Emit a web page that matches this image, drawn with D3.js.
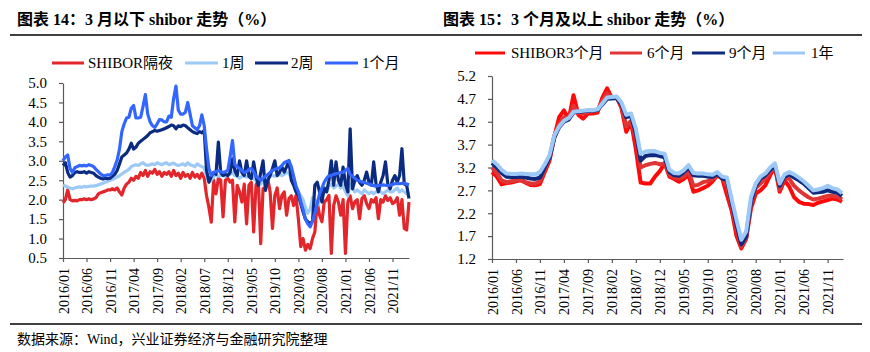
<!DOCTYPE html>
<html>
<head>
<meta charset="utf-8">
<script src="https://cdn.jsdelivr.net/npm/d3@7"></script>
<style>
  body { margin: 0; background: #fff; }
  svg text { font-family: "Liberation Serif", "Noto Sans CJK SC", serif; fill: #000; }
</style>
</head>
<body>
<svg id="chart" width="870" height="352"></svg>
<script>
// x tick labels, one every 5 months from 2016/01
var xTickLabels = ["2016/01","2016/06","2016/11","2017/04","2017/09","2018/02","2018/07",
  "2018/12","2019/05","2019/10","2020/03","2020/08","2021/01","2021/06","2021/11"];

// ---- chart 14: half-monthly readings, 2016/01 .. 2022/02 ----
var leftNames = ["SHIBOR隔夜", "1周", "2周", "1个月"];
var leftTicks = [0.5, 1.0, 1.5, 2.0, 2.5, 3.0, 3.5, 4.0, 4.5, 5.0];

var shiborON = [
  1.92, 2.0, 2.25, 2.0, 1.97, 1.98, 1.97, 2.0, 2.0, 2.02,
  2.0, 2.02, 2.0, 2.02, 2.05, 2.15, 2.18, 2.2, 2.22, 2.25,
  2.25, 2.28, 2.25, 2.3, 2.2, 2.12, 2.3, 2.4, 2.45, 2.55,
  2.5, 2.6, 2.55, 2.7, 2.62, 2.75, 2.6, 2.72, 2.68, 2.78,
  2.65, 2.72, 2.6, 2.7, 2.65, 2.72, 2.6, 2.75, 2.62, 2.68,
  2.55, 2.7, 2.6, 2.65, 2.55, 2.7, 2.58, 2.65, 2.55, 2.68,
  2.55, 2.1, 1.8, 1.42, 2.5, 2.15, 2.55, 2.5, 1.56, 2.5,
  2.55, 2.45, 2.5, 1.43, 2.37, 2.2, 1.94, 2.4, 1.38, 2.37,
  2.45, 1.17, 2.37, 2.5, 0.87, 2.28, 2.3, 2.54, 2.2, 1.26,
  2.11, 2.3, 1.77, 2.11, 2.2, 1.6, 2.03, 2.1, 1.85, 2.11,
  1.5, 0.79, 1.0, 0.7, 0.85, 0.74, 1.0, 1.17, 1.94, 1.6,
  1.43, 1.94, 2.0, 2.11, 0.62, 1.85, 2.1, 1.94, 1.6, 2.0,
  0.62, 1.94, 2.1, 1.77, 1.94, 2.0, 1.51, 2.03, 2.1, 1.9,
  1.77, 2.0, 1.94, 2.05, 1.51, 2.0, 1.94, 2.1, 1.98, 2.05,
  1.9, 1.94, 2.05, 1.6, 2.0, 1.26, 1.22, 1.94
];
var shibor1W = [
  2.38, 2.35, 2.32, 2.3, 2.28, 2.3, 2.32, 2.33, 2.32, 2.34,
  2.33, 2.34, 2.35, 2.35, 2.36, 2.38, 2.4, 2.42, 2.45, 2.47,
  2.5, 2.52, 2.55, 2.58, 2.62, 2.66, 2.7, 2.74, 2.78, 2.85,
  2.88, 2.9, 2.88, 2.92, 2.95, 2.9, 2.88, 2.9, 2.92, 2.9,
  2.95, 2.92, 2.9, 2.93, 2.95, 2.9, 2.92, 2.94, 2.9, 2.88,
  2.9, 2.92, 2.88, 2.95, 2.9, 2.88, 2.85, 2.92, 2.88, 2.85,
  2.82, 2.6, 2.45, 2.5, 2.6, 2.62, 2.6, 2.62, 2.65, 2.6,
  2.62, 2.65, 2.7, 2.62, 2.6, 2.55, 2.6, 2.62, 2.58, 2.6,
  2.62, 2.55, 2.5, 2.45, 2.4, 2.5, 2.55, 2.58, 2.6, 2.62,
  2.6, 2.62, 2.65, 2.62, 2.65, 2.7, 2.68, 2.55, 2.4, 2.3,
  2.2, 2.1, 2.0, 1.8, 1.65, 1.75, 2.05, 2.0, 1.85, 2.0,
  2.2, 2.3, 2.2, 2.35, 2.4, 2.3, 2.35, 2.4, 2.3, 2.35,
  2.2, 2.1, 2.4, 2.3, 2.2, 2.25, 2.2, 2.15, 2.25, 2.2,
  2.15, 2.2, 2.15, 2.2, 2.25, 2.2, 2.15, 2.2, 2.25, 2.2,
  2.2, 2.25, 2.3, 2.2, 2.25, 2.2, 2.15, 2.2
];
var shibor2W = [
  2.88, 2.95, 2.7, 2.58, 2.62, 2.7, 2.72, 2.7, 2.7, 2.72,
  2.68, 2.72, 2.7, 2.68, 2.62, 2.58, 2.55, 2.53, 2.55, 2.54,
  2.55, 2.6, 2.65, 2.75, 2.92, 3.1, 3.15, 3.2, 3.3, 3.45,
  3.3, 3.35, 3.45, 3.5, 3.55, 3.6, 3.65, 3.72, 3.75, 3.78,
  3.76, 3.78, 3.8, 3.82, 3.85, 3.88, 3.92, 3.9, 3.82, 3.9,
  3.88, 3.92, 3.9, 3.85, 3.8, 3.75, 3.72, 3.7, 3.75, 3.72,
  3.78, 2.75, 2.45, 2.6, 2.7, 2.65, 3.48, 2.7, 2.62, 2.65,
  2.62, 2.7, 3.05, 2.75, 2.62, 3.0, 2.7, 2.62, 3.0, 2.6,
  2.54, 2.97, 2.6, 2.37, 2.7, 3.0, 2.24, 2.5, 2.62, 2.8,
  3.0, 2.62, 2.7, 2.84, 2.71, 2.85, 3.0, 2.5, 2.37, 2.2,
  2.11, 1.9, 1.68, 1.5, 1.43, 1.38, 1.45, 2.37, 2.45, 2.2,
  1.94, 2.3, 2.2, 2.5, 3.0, 2.37, 2.97, 2.5, 2.37, 2.84,
  2.4, 2.2, 3.82, 2.28, 2.5, 2.62, 2.45, 2.37, 2.5, 2.71,
  2.45, 2.37, 2.97, 2.4, 2.2, 2.45, 2.62, 2.97, 2.4, 2.28,
  2.5, 2.62, 2.45, 2.62, 3.31, 2.4, 2.37, 2.03
];
var shibor1M = [
  3.0, 3.1, 3.15, 2.8, 2.7, 2.82, 2.85, 2.88, 2.87, 2.88,
  2.87, 2.9, 2.88, 2.85, 2.78, 2.72, 2.66, 2.62, 2.62, 2.64,
  2.63, 2.7, 2.85, 3.02, 3.3, 3.75, 3.95, 4.1, 4.12, 4.35,
  4.42, 4.1, 4.1, 4.12, 4.4, 4.7, 4.2, 4.0, 3.9, 3.86,
  3.95, 4.06, 4.05, 4.0, 4.0, 4.15, 4.12, 4.6, 4.92, 4.3,
  4.2, 4.2, 4.25, 4.5, 4.2, 3.9, 3.85, 3.8, 3.9, 4.18,
  3.9, 3.3, 2.8, 2.62, 2.7, 2.72, 2.75, 2.72, 2.7, 2.72,
  2.75, 3.1, 3.52, 2.9, 2.85, 2.8, 2.75, 2.7, 2.72, 2.78,
  2.8, 2.72, 2.6, 2.55, 2.5, 2.55, 2.6, 2.65, 2.7, 2.75,
  2.78, 2.8, 2.82, 2.88, 2.95, 2.98, 3.0, 2.85, 2.6, 2.35,
  2.2, 1.95, 1.75, 1.5, 1.38, 1.3, 1.45, 1.65, 1.9, 2.15,
  2.3, 2.45, 2.55, 2.62, 2.62, 2.65, 2.67, 2.68, 2.7, 2.7,
  2.75, 2.8, 2.65, 2.6, 2.55, 2.5, 2.48, 2.45, 2.45, 2.42,
  2.4, 2.38, 2.36, 2.35, 2.36, 2.37, 2.38, 2.37, 2.36, 2.37,
  2.39, 2.41, 2.42, 2.41, 2.42, 2.42, 2.4, 2.38
];

// ---- chart 15: monthly readings, 2016/01 .. 2022/02 ----
var rightNames = ["SHIBOR3个月", "6个月", "9个月", "1年"];
var rightTicks = [1.2, 1.7, 2.2, 2.7, 3.2, 3.7, 4.2, 4.7, 5.2];

var shibor3M = [
  3.1, 3.0, 2.83, 2.86, 2.87, 2.9, 2.92, 2.87, 2.82, 2.81,
  2.84, 3.1, 3.35, 3.87, 4.3, 4.45, 4.25, 4.78, 4.35, 4.27,
  4.38, 4.38, 4.4, 4.72, 4.93, 4.72, 4.73, 4.5, 3.98, 4.2,
  3.6, 2.87, 2.85, 2.85, 3.0, 3.12, 3.3, 3.0, 2.95, 2.89,
  2.95, 3.03, 2.67, 2.7, 2.75, 2.8, 2.9, 3.03, 2.96, 2.6,
  2.25, 1.7, 1.43, 1.64, 2.3, 2.63, 2.7, 2.81, 3.03, 3.21,
  2.67, 2.92, 2.78, 2.55, 2.45, 2.41, 2.4, 2.38, 2.43, 2.46,
  2.49, 2.52, 2.5, 2.45
];
var shibor6M = [
  3.2, 3.08, 2.92, 2.88, 2.9, 2.92, 2.93, 2.88, 2.85, 2.85,
  2.9, 3.15, 3.4, 3.9, 4.15, 4.3, 4.28, 4.55, 4.4, 4.38,
  4.42, 4.43, 4.45, 4.65, 4.82, 4.72, 4.72, 4.55, 4.1, 4.22,
  3.85, 3.2, 3.25, 3.28, 3.3, 3.27, 3.28, 3.05, 2.98, 2.96,
  3.0, 3.12, 2.8, 2.82, 2.88, 2.9, 2.95, 3.05, 2.97, 2.8,
  2.35, 1.85, 1.47, 1.65, 2.4, 2.75, 2.85, 2.95, 3.1, 3.22,
  2.72, 2.98, 2.95, 2.8, 2.7, 2.62, 2.55, 2.5, 2.52, 2.55,
  2.58, 2.58, 2.56, 2.5
];
var shibor9M = [
  3.3, 3.2, 3.08, 3.0, 2.99, 2.99, 3.0, 2.98, 2.96, 2.95,
  2.98, 3.2, 3.42, 3.85, 4.08, 4.2, 4.25, 4.4, 4.42, 4.43,
  4.44, 4.44, 4.46, 4.58, 4.7, 4.71, 4.72, 4.58, 4.3, 4.33,
  3.95, 3.35, 3.45, 3.47, 3.47, 3.45, 3.42, 3.1, 3.03, 3.02,
  3.1, 3.2, 3.03, 3.02, 3.02, 3.0, 3.0, 3.06, 2.96, 2.93,
  2.42, 1.95, 1.52, 1.7, 2.45, 2.8, 2.96, 3.03, 3.15, 3.25,
  2.8, 3.0, 3.05, 2.98, 2.92, 2.85, 2.75, 2.65, 2.66, 2.67,
  2.7, 2.67, 2.65, 2.58
];
var shibor1Y = [
  3.36, 3.27, 3.15, 3.07, 3.06, 3.06, 3.07, 3.06, 3.05, 3.05,
  3.1, 3.27, 3.47, 3.9, 4.1, 4.22, 4.28, 4.42, 4.43, 4.44,
  4.45, 4.45, 4.47, 4.6, 4.73, 4.74, 4.75, 4.62, 4.35, 4.38,
  4.05, 3.5, 3.55, 3.56, 3.56, 3.52, 3.5, 3.15, 3.08, 3.07,
  3.14, 3.25, 3.08, 3.07, 3.07, 3.05, 3.04, 3.1, 3.0, 2.98,
  2.5, 2.05, 1.62, 1.8, 2.55, 2.85, 3.0, 3.07, 3.2, 3.29,
  2.85, 3.05, 3.1, 3.05, 2.98, 2.9, 2.8, 2.7, 2.72, 2.75,
  2.8, 2.75, 2.72, 2.64
];

var svg = d3.select("#chart");

function drawPanel(cfg) {
  var x = d3.scaleLinear().domain([0, cfg.xMax]).range([cfg.left, cfg.right]);
  var y = d3.scaleLinear().domain([cfg.ticks[0], cfg.ticks[cfg.ticks.length - 1]])
    .range([cfg.bottom, cfg.top]);

  var g = svg.append("g");

  // x axis
  var xa = g.append("g")
    .attr("transform", "translate(0," + cfg.bottom + ")")
    .call(d3.axisBottom(x)
      .tickValues(xTickLabels.map(function (d, i) { return i * 5; }))
      .tickFormat(function (d, i) { return xTickLabels[i]; })
      .tickSize(4).tickSizeOuter(0));
  xa.selectAll("text")
    .attr("transform", "rotate(-90)")
    .attr("text-anchor", "end")
    .attr("x", -10)
    .attr("y", 0)
    .attr("dy", "0.36em")
    .style("font-size", "14px");

  // y axis
  var ya = g.append("g")
    .attr("transform", "translate(" + cfg.left + ",0)")
    .call(d3.axisLeft(y).tickValues(cfg.ticks).tickFormat(d3.format(".1f"))
      .tickSize(4).tickSizeOuter(0).tickPadding(12));
  ya.selectAll("text").style("font-size", "15px");

  g.selectAll(".domain, .tick line").attr("stroke", "#5a5a5a").attr("stroke-width", 1.2);
  g.selectAll(".tick text").attr("fill", "#000").style("font-family", "Liberation Serif");

  // series
  var line = d3.line()
    .x(function (d) { return x(d[0]); })
    .y(function (d) { return y(d[1]); });
  cfg.series.forEach(function (s) {
    var pts = s.values.map(function (v, i) { return [i * cfg.step, v]; });
    g.append("path")
      .datum(pts)
      .attr("fill", "none")
      .attr("stroke", s.color)
      .attr("stroke-width", cfg.lineWidth)
      .attr("stroke-linejoin", "round")
      .attr("d", line);
  });

  // legend
  cfg.series.forEach(function (s, i) {
    var p = cfg.legendPos[i];
    g.append("line")
      .attr("x1", p[0]).attr("x2", p[1])
      .attr("y1", cfg.legendY).attr("y2", cfg.legendY)
      .attr("stroke", s.color).attr("stroke-width", 3);
    g.append("text")
      .attr("x", p[2]).attr("y", cfg.legendY)
      .attr("dy", "0.35em")
      .style("font-size", "15px")
      .text(s.name);
  });

  // title, rules
  svg.append("text")
    .attr("x", cfg.titleX).attr("y", 25)
    .style("font-size", "16px").style("font-weight", "bold")
    .text(cfg.title);
  svg.append("line")
    .attr("x1", cfg.ruleX[0]).attr("x2", cfg.ruleX[1])
    .attr("y1", 35).attr("y2", 35)
    .attr("stroke", "#000").attr("stroke-width", 1.3);
  svg.append("line")
    .attr("x1", cfg.ruleX[0]).attr("x2", cfg.ruleX[1])
    .attr("y1", 324).attr("y2", 324)
    .attr("stroke", "#000").attr("stroke-width", 1.3);
}

drawPanel({
  title: "图表 14：3 月以下 shibor 走势（%）",
  titleX: 17, ruleX: [10, 440],
  left: 63, right: 409, top: 83, bottom: 258,
  xMax: 73.5, step: 0.5, ticks: leftTicks, lineWidth: 3.2,
  legendY: 63,
  legendPos: [[52, 84, 88], [185, 218, 222], [255, 288, 291], [325, 358, 362]],
  series: [
    { name: leftNames[0], values: shiborON, color: "#e3262b" },
    { name: leftNames[1], values: shibor1W, color: "#9dc9f5" },
    { name: leftNames[2], values: shibor2W, color: "#0b2b80" },
    { name: leftNames[3], values: shibor1M, color: "#3366ff" }
  ]
});

drawPanel({
  title: "图表 15：3 个月及以上 shibor 走势（%）",
  titleX: 443, ruleX: [440, 862],
  left: 492, right: 843, top: 76, bottom: 259,
  xMax: 73.2, step: 1, ticks: rightTicks, lineWidth: 4,
  legendY: 53,
  legendPos: [[475, 505, 511], [610, 642, 647], [692, 725, 729], [773, 805, 811]],
  series: [
    { name: rightNames[0], values: shibor3M, color: "#ff0a0a" },
    { name: rightNames[1], values: shibor6M, color: "#e03535" },
    { name: rightNames[2], values: shibor9M, color: "#0e2a7e" },
    { name: rightNames[3], values: shibor1Y, color: "#9cc9f7" }
  ]
});

svg.append("text")
  .attr("x", 17).attr("y", 344)
  .style("font-size", "14px")
  .text("数据来源：Wind，兴业证券经济与金融研究院整理");
</script>
</body>
</html>
